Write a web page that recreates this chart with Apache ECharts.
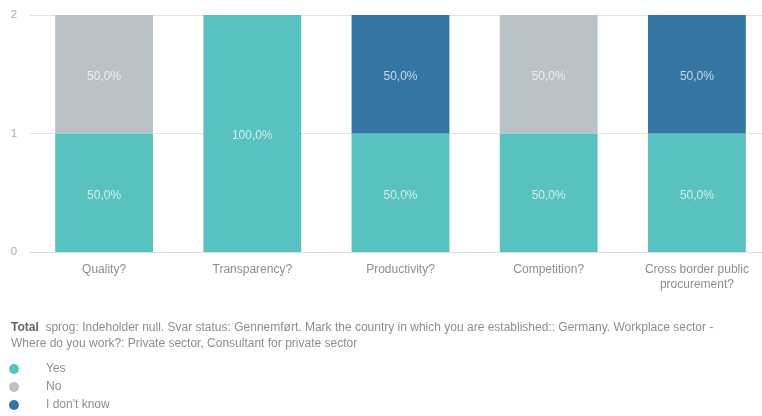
<!DOCTYPE html>
<html><head><meta charset="utf-8">
<script src="https://cdn.jsdelivr.net/npm/echarts@6/dist/echarts.min.js"></script>
<style>html,body{margin:0;padding:0;background:#fff;overflow:hidden}#c{width:771px;height:416px}</style>
</head><body><div id="c"></div>
<script>
const categories = ['Quality?', 'Transparency?', 'Productivity?', 'Competition?', 'Cross border public\nprocurement?'];
const yesValues = [1, 2, 1, 1, 1];
const noValues = [1, 0, 0, 1, 0];
const dontKnowValues = [0, 0, 1, 0, 1];
const seriesNames = ['Yes', 'No', "I don't know"];
const yTicks = [0, 1, 2];
const subtitleBold = 'Total';
const subtitleText = 'sprog: Indeholder null. Svar status: Gennemført. Mark the country in which you are established:: Germany. Workplace sector -\nWhere do you work?: Private sector, Consultant for private sector';

const colors = ['#57c2bf', '#b9c3c7', '#3375a3'];
const all = [yesValues, noValues, dontKnowValues];
const totals = categories.map((_, i) => all.reduce((s, a) => s + a[i], 0));

const chart = echarts.init(document.getElementById('c'));
chart.setOption({
  animation: false,
  textStyle: { fontFamily: 'Liberation Sans, Arial, sans-serif' },
  title: {
    left: 6, top: 314, padding: 5,
    text: '{b|' + subtitleBold + '}  ' + subtitleText,
    textStyle: {
      fontSize: 12, color: '#8e8e8e', lineHeight: 16.5, fontWeight: 'normal',
      fontFamily: 'Liberation Sans, Arial, sans-serif',
      rich: { b: { fontWeight: 'bold', color: '#666', fontSize: 12 } }
    }
  },
  legend: {
    orient: 'vertical', left: 9, top: 363, height: 60, padding: 0,
    itemWidth: 10, itemHeight: 10, itemGap: 6,
    icon: 'circle',
    data: seriesNames,
    textStyle: { color: '#8e8e8e', fontSize: 12, padding: [0, 0, 0, 22] }
  },
  grid: { left: 30, top: 15, right: 0, bottom: 164, containLabel: false },
  xAxis: {
    type: 'category', data: categories,
    axisLine: { lineStyle: { color: '#dddddd' } },
    axisTick: { show: false },
    axisLabel: { color: '#8e8e8e', fontSize: 12, margin: 10, lineHeight: 15, interval: 0 }
  },
  yAxis: {
    type: 'value', min: yTicks[0], max: yTicks[yTicks.length - 1], interval: 1,
    axisLine: { show: false }, axisTick: { show: false },
    axisLabel: { color: '#aaaaaa', fontSize: 11.5, margin: 16, align: 'center' },
    splitLine: { lineStyle: { color: '#e4e4e4' } }
  },
  series: all.map((vals, k) => ({
    name: seriesNames[k], type: 'bar', stack: 'total', barWidth: '66%',
    itemStyle: { color: colors[k] },
    label: {
      show: true, position: 'inside', color: 'rgba(255,255,255,0.72)', fontSize: 12,
      offset: [0, 2.5],
      formatter: p => p.value ? (p.value / totals[p.dataIndex] * 100).toFixed(1).replace('.', ',') + '%' : ''
    },
    data: vals
  }))
});
</script></body></html>
